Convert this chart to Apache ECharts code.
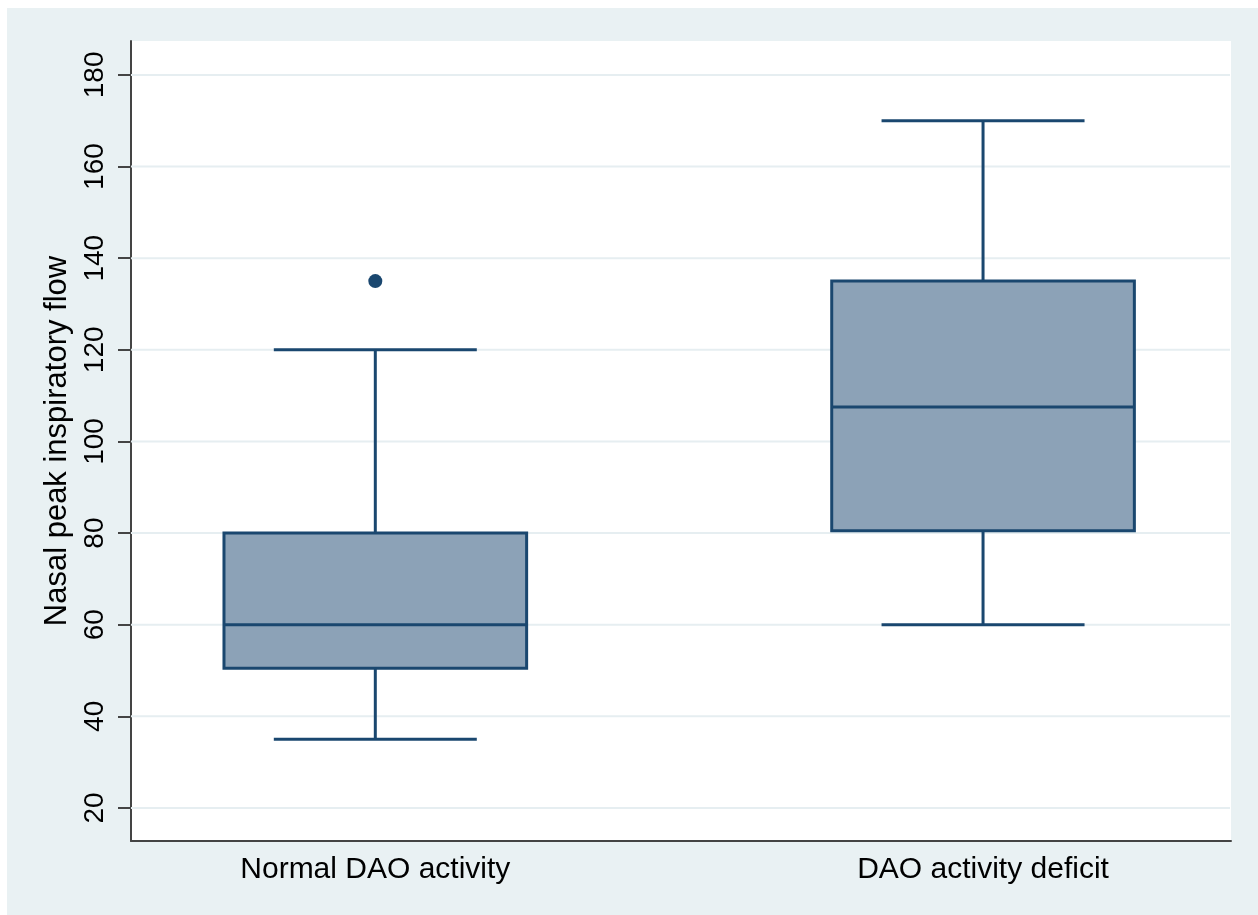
<!DOCTYPE html>
<html>
<head>
<meta charset="utf-8">
<style>
  html, body { margin: 0; padding: 0; background: #ffffff; }
  #chart { width: 1258px; height: 915px; }
</style>
<script src="https://cdn.jsdelivr.net/npm/echarts@6/dist/echarts.min.js"></script>
</head>
<body>
<div id="chart"></div>
<script>
// Groups and their positions on the x axis
const categories = ['Normal DAO activity', 'DAO activity deficit'];
const positions = [1, 2];

// Box summaries per group
const lowerWhisker = [35, 60];
const q1 = [50.5, 80.5];
const median = [60, 107.5];
const q3 = [80, 135];
const upperWhisker = [120, 170];

// Outside values: [group position, value]
const outliers = [[1, 135]];

// Y axis tick values
const yTicks = [20, 40, 60, 80, 100, 120, 140, 160, 180];

const X_MIN = 0.598, X_MAX = 2.408;
const Y_MIN = 12.8, Y_MAX = 187.4;

const NAVY = '#1a476f';
const FILL = '#8ca2b7';
const GRID = '#e6eef1';
const FONT = '"Liberation Sans", Arial, sans-serif';

const boxData = positions.map((p, i) =>
  [p, lowerWhisker[i], q1[i], median[i], q3[i], upperWhisker[i]]);

const chart = echarts.init(document.getElementById('chart'), null, { renderer: 'canvas' });

chart.setOption({
  backgroundColor: '#ffffff',
  animation: false,
  graphic: [{
    type: 'rect',
    z: -10,
    shape: { x: 7, y: 8, width: 1251, height: 907 },
    style: { fill: '#e9f1f3' }
  }],
  grid: {
    left: 131, top: 41, right: 27, bottom: 74,
    show: true, backgroundColor: '#ffffff', borderWidth: 0
  },
  xAxis: {
    type: 'value',
    min: X_MIN, max: X_MAX,
    splitLine: { show: false },
    axisLine: { show: true, onZero: false, lineStyle: { color: '#444444', width: 2 } },
    axisTick: { show: false },
    axisLabel: {
      customValues: positions,
      formatter: v => categories[positions.indexOf(v)] || '',
      color: '#000000', fontFamily: FONT, fontSize: 30, margin: 14
    }
  },
  yAxis: {
    type: 'value',
    min: Y_MIN, max: Y_MAX,
    name: 'Nasal peak inspiratory flow',
    nameLocation: 'middle',
    nameGap: 58,
    nameTextStyle: { color: '#000000', fontFamily: FONT, fontSize: 31 },
    splitLine: { show: false },
    axisLine: { show: true, onZero: false, lineStyle: { color: '#444444', width: 2 } },
    axisTick: { show: true, customValues: yTicks, length: 13, lineStyle: { color: '#444444', width: 2 } },
    axisLabel: {
      customValues: yTicks,
      rotate: 90,
      color: '#000000', fontFamily: FONT, fontSize: 28, margin: 22
    }
  },
  series: [
    {
      // horizontal grid lines at each y tick
      type: 'custom',
      z: 1,
      silent: true,
      data: yTicks.map(v => [v]),
      renderItem: (params, api) => {
        const v = api.value(0);
        const a = api.coord([X_MIN, v]);
        const b = api.coord([X_MAX, v]);
        return {
          type: 'line',
          shape: { x1: a[0], y1: a[1], x2: b[0] - 1, y2: b[1] },
          style: { stroke: GRID, lineWidth: 2 }
        };
      }
    },
    {
      // box-and-whisker per group
      type: 'custom',
      z: 3,
      data: boxData,
      renderItem: (params, api) => {
        const x = api.value(0);
        const lw = api.value(1), lo = api.value(2), md = api.value(3),
              hi = api.value(4), uw = api.value(5);
        const halfBox = 0.249, halfCap = 0.167;
        const bl = api.coord([x - halfBox, lo]);
        const tr = api.coord([x + halfBox, hi]);
        const c = api.coord([x, md]);
        const capL = api.coord([x - halfCap, uw]);
        const capR = api.coord([x + halfCap, uw]);
        const lowL = api.coord([x - halfCap, lw]);
        const lowR = api.coord([x + halfCap, lw]);
        const lineStyle = { stroke: NAVY, lineWidth: 3 };
        return {
          type: 'group',
          children: [
            { type: 'line', shape: { x1: c[0], y1: capL[1], x2: c[0], y2: tr[1] }, style: lineStyle },
            { type: 'line', shape: { x1: c[0], y1: bl[1], x2: c[0], y2: lowL[1] }, style: lineStyle },
            { type: 'line', shape: { x1: capL[0], y1: capL[1], x2: capR[0], y2: capR[1] }, style: lineStyle },
            { type: 'line', shape: { x1: lowL[0], y1: lowL[1], x2: lowR[0], y2: lowR[1] }, style: lineStyle },
            {
              type: 'rect',
              shape: { x: bl[0], y: tr[1], width: tr[0] - bl[0], height: bl[1] - tr[1] },
              style: { fill: FILL, stroke: NAVY, lineWidth: 3 }
            },
            { type: 'line', shape: { x1: bl[0], y1: c[1], x2: tr[0], y2: c[1] }, style: lineStyle }
          ]
        };
      }
    },
    {
      type: 'scatter',
      z: 4,
      data: outliers,
      symbol: 'circle',
      symbolSize: 14,
      itemStyle: { color: NAVY, opacity: 1 }
    }
  ]
});
</script>
</body>
</html>
